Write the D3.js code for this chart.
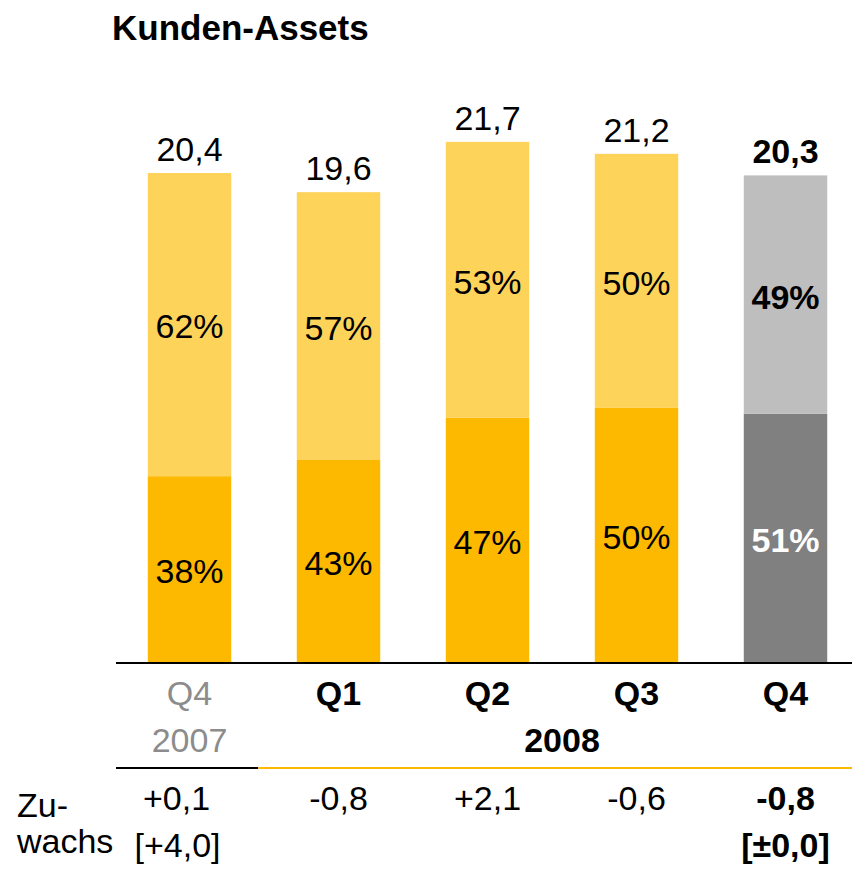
<!DOCTYPE html>
<html>
<head>
<meta charset="utf-8">
<script src="https://cdn.jsdelivr.net/npm/d3@7"></script>
<style>
  body { margin: 0; background: #fff; }
  svg { font-family: "Liberation Sans", Arial, sans-serif; }
</style>
</head>
<body>
<svg class="chart" width="852" height="871"></svg>
<script>
// data
const quarters = ["Q4", "Q1", "Q2", "Q3", "Q4"];
const totals = [20.4, 19.6, 21.7, 21.2, 20.3];
const totalLabels = ["20,4", "19,6", "21,7", "21,2", "20,3"];
const lowerShare = [38, 43, 47, 50, 51];
const upperShare = [62, 57, 53, 50, 49];
const growth = ["+0,1", "-0,8", "+2,1", "-0,6", "-0,8"];
const growthYear = ["[+4,0]", "", "", "", "[±0,0]"];

const width = 852;
const baseline = 662;
const fontSize = 34;

const svg = d3.select(".chart");
const keys = d3.range(quarters.length);

const x = d3.scaleBand()
    .domain(keys)
    .range([115, 860])
    .paddingInner(0.44)
    .paddingOuter(0.22);

const y = d3.scaleLinear()
    .domain([0, 20.4])
    .range([baseline, 173]);

const isCurrent = i => i === quarters.length - 1;
const lowerColor = i => isCurrent(i) ? "#808080" : "#fdb900";
const upperColor = i => isCurrent(i) ? "#bebebe" : "#fed35a";

const rows = keys.map(i => {
    const low = totals[i] * lowerShare[i] / 100;
    return {i, low, total: totals[i]};
});

// title
svg.append("text")
    .attr("x", 112)
    .attr("y", 40)
    .attr("font-size", 35)
    .attr("font-weight", "bold")
    .text("Kunden-Assets");

// bars
svg.append("g").selectAll("rect")
    .data(rows)
    .enter().append("rect")
        .attr("x", d => x(d.i))
        .attr("y", d => y(d.low))
        .attr("width", x.bandwidth())
        .attr("height", d => y(0) - y(d.low))
        .attr("fill", d => lowerColor(d.i));

svg.append("g").selectAll("rect")
    .data(rows)
    .enter().append("rect")
        .attr("x", d => x(d.i))
        .attr("y", d => y(d.total))
        .attr("width", x.bandwidth())
        .attr("height", d => y(d.low) - y(d.total))
        .attr("fill", d => upperColor(d.i));

const cx = i => x(i) + x.bandwidth() / 2;

// percent labels
const labels = svg.append("g")
    .attr("text-anchor", "middle")
    .attr("font-size", fontSize);

labels.selectAll(".low")
    .data(rows)
    .enter().append("text")
        .attr("x", d => cx(d.i))
        .attr("y", d => (y(0) + y(d.low)) / 2 + 2)
        .attr("dy", "0.35em")
        .attr("fill", d => isCurrent(d.i) ? "#fff" : "#000")
        .attr("font-weight", d => isCurrent(d.i) ? "bold" : null)
        .text(d => lowerShare[d.i] + "%");

labels.selectAll(".up")
    .data(rows)
    .enter().append("text")
        .attr("x", d => cx(d.i))
        .attr("y", d => (y(d.low) + y(d.total)) / 2 + 2)
        .attr("dy", "0.35em")
        .attr("font-weight", d => isCurrent(d.i) ? "bold" : null)
        .text(d => upperShare[d.i] + "%");

labels.selectAll(".tot")
    .data(rows)
    .enter().append("text")
        .attr("x", d => cx(d.i))
        .attr("y", d => y(d.total) - 12)
        .attr("font-weight", d => isCurrent(d.i) ? "bold" : null)
        .text(d => totalLabels[d.i]);

// axis line
svg.append("line")
    .attr("x1", 116).attr("x2", width)
    .attr("y1", baseline + 1).attr("y2", baseline + 1)
    .attr("stroke", "#000")
    .attr("stroke-width", 2);

// category labels
svg.append("g")
    .attr("text-anchor", "middle")
    .attr("font-size", fontSize)
    .selectAll("text")
    .data(keys)
    .enter().append("text")
        .attr("x", i => cx(i))
        .attr("y", 705)
        .attr("fill", i => i === 0 ? "#8c8c8c" : "#000")
        .attr("font-weight", i => i === 0 ? null : "bold")
        .text(i => quarters[i]);

svg.append("text")
    .attr("x", cx(0))
    .attr("y", 752)
    .attr("text-anchor", "middle")
    .attr("font-size", fontSize)
    .attr("fill", "#8c8c8c")
    .text("2007");

svg.append("text")
    .attr("x", (cx(1) + cx(4)) / 2)
    .attr("y", 752)
    .attr("text-anchor", "middle")
    .attr("font-size", fontSize)
    .attr("font-weight", "bold")
    .text("2008");

// year separator
const split = x(0) + x.bandwidth() + 27;
svg.append("line")
    .attr("x1", 116).attr("x2", split)
    .attr("y1", 768).attr("y2", 768)
    .attr("stroke", "#000")
    .attr("stroke-width", 2);
svg.append("line")
    .attr("x1", split).attr("x2", width)
    .attr("y1", 768).attr("y2", 768)
    .attr("stroke", "#fdb900")
    .attr("stroke-width", 2);

// growth rows
svg.append("text")
    .attr("x", 17)
    .attr("y", 817)
    .attr("font-size", fontSize)
    .text("Zu-");
svg.append("text")
    .attr("x", 17)
    .attr("y", 853)
    .attr("font-size", fontSize)
    .text("wachs");

const growthG = svg.append("g")
    .attr("text-anchor", "middle")
    .attr("font-size", fontSize);

growthG.selectAll(".g1")
    .data(keys)
    .enter().append("text")
        .attr("x", i => cx(i) - (i === 0 ? 13 : 0))
        .attr("y", 810)
        .attr("font-weight", i => isCurrent(i) ? "bold" : null)
        .text(i => growth[i]);

growthG.selectAll(".g2")
    .data(keys)
    .enter().append("text")
        .attr("x", i => cx(i) - (i === 0 ? 12 : 0))
        .attr("y", 857)
        .attr("font-weight", i => isCurrent(i) ? "bold" : null)
        .text(i => growthYear[i]);
</script>
</body>
</html>
